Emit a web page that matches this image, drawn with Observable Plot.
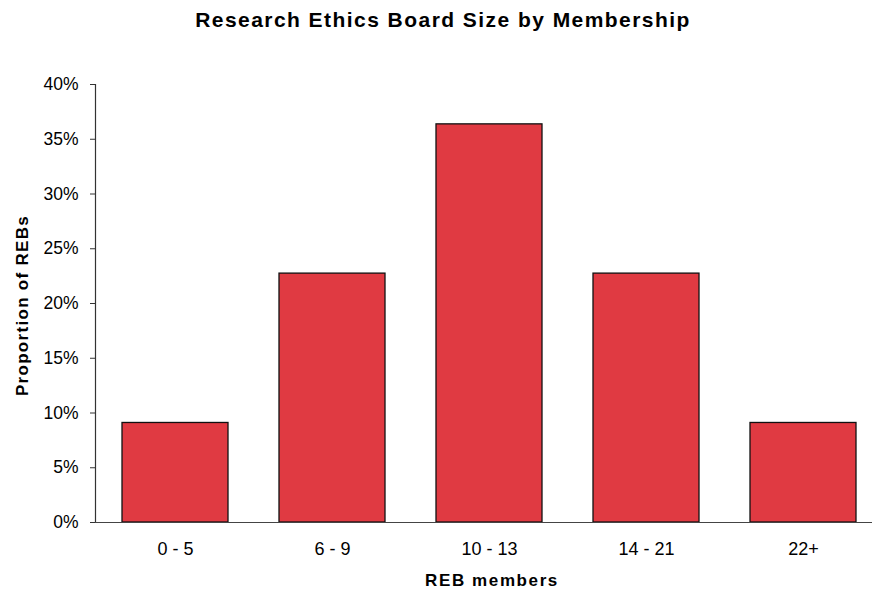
<!DOCTYPE html>
<html>
<head>
<meta charset="utf-8">
<script src="https://cdn.jsdelivr.net/npm/d3@7"></script>
<script src="https://cdn.jsdelivr.net/npm/@observablehq/plot@0.6"></script>
<style>
  html, body { margin: 0; padding: 0; background: #fff; }
  #wrap { width: 872px; font-family: "Liberation Sans", Arial, sans-serif; }
  #title {
    height: 50px;
    box-sizing: border-box;
    padding-top: 8px;
    padding-left: 14px;
    text-align: center;
    font-weight: bold;
    font-size: 21px;
    letter-spacing: 1.45px;
    color: #000;
    white-space: nowrap;
  }
</style>
</head>
<body>
<div id="wrap">
  <div id="title">Research Ethics Board Size by Membership</div>
  <div id="chart"></div>
</div>
<script>
// Board size groups (number of members) and share of boards in each group
const groups = ["0 - 5", "6 - 9", "10 - 13", "14 - 21", "22+"];
const shares = [0.0909, 0.2273, 0.3636, 0.2273, 0.0909];
const yTicks = [0, 0.05, 0.10, 0.15, 0.20, 0.25, 0.30, 0.35, 0.40];
const xTitle = "REB members";
const yTitle = "Proportion of REBs";

const data = groups.map((g, i) => ({group: g, share: shares[i]}));

const chart = Plot.plot({
  width: 872,
  height: 545,
  marginTop: 34,
  marginBottom: 73,
  marginLeft: 95,
  marginRight: 0,
  style: {fontFamily: "'Liberation Sans', Arial, sans-serif", color: "#000", background: "#fff"},
  x: {
    domain: groups,
    range: [95, 882],
    paddingInner: 0.326,
    paddingOuter: 0.163,
    axis: null
  },
  y: {domain: [0, 0.4], axis: null},
  marks: [
    Plot.barY(data, {
      x: "group",
      y: "share",
      fill: "#E03A42",
      stroke: "#111",
      strokeWidth: 1.3
    }),
    // axis lines
    Plot.frame({anchor: "left", stroke: "#333", strokeWidth: 1.2}),
    Plot.ruleY([0], {stroke: "#444", strokeWidth: 1.2}),
    Plot.axisY({
      ticks: yTicks,
      tickFormat: d3.format(".0%"),
      tickSize: 5,
      tickPadding: 12,
      fontSize: 17.5,
      stroke: "#333",
      strokeOpacity: 1,
      label: null
    }),
    Plot.axisX({
      tickSize: 0,
      tickPadding: 20,
      fontSize: 18,
      label: null
    }),
    Plot.text([xTitle], {
      frameAnchor: "bottom",
      dy: 63,
      dx: 8,
      fontWeight: "bold",
      fontSize: 17
    }),
    Plot.text([yTitle], {
      frameAnchor: "left",
      textAnchor: "middle",
      dx: -73,
      dy: 2,
      rotate: -90,
      fontWeight: "bold",
      fontSize: 17
    })
  ]
});

// wider letter spacing on the axis titles
d3.select(chart).selectAll("text")
  .filter(function() { return this.textContent === xTitle; })
  .style("letter-spacing", "1.6px");
d3.select(chart).selectAll("text")
  .filter(function() { return this.textContent === yTitle; })
  .style("letter-spacing", "1.3px");

document.getElementById("chart").appendChild(chart);
</script>
</body>
</html>
